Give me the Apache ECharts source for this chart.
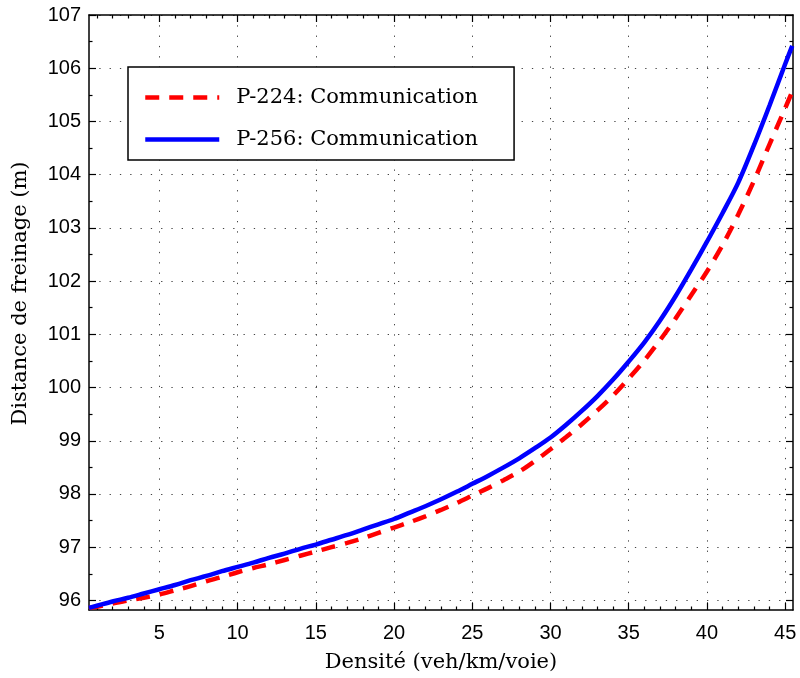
<!DOCTYPE html>
<html><head><meta charset="utf-8">
<script src="https://cdn.jsdelivr.net/npm/echarts@6/dist/echarts.min.js"></script>
<style>html,body{margin:0;padding:0;background:#fff}#c{width:800px;height:678px}</style>
</head><body><div id="c"></div>
<script>
// Densité (veh/km/voie)
const density = [0.5, 1, 2, 3, 4, 5, 6, 7, 8, 9, 10, 11, 12, 13, 14, 15, 16, 17, 18, 19, 20,
  21, 22, 23, 24, 25, 26, 27, 28, 29, 30, 31, 32, 33, 34, 35, 36, 37, 38, 39, 40,
  41, 42, 43, 44, 45, 45.45];
// P-224: Communication (red dashed)
const p224 = [95.86, 95.88, 95.94, 96.00, 96.05, 96.11, 96.19, 96.27, 96.36, 96.44, 96.53,
  96.61, 96.68, 96.76, 96.84, 96.92, 97.00, 97.08, 97.17, 97.27, 97.37,
  97.47, 97.58, 97.70, 97.83, 97.97, 98.11, 98.26, 98.42, 98.62, 98.84,
  99.07, 99.31, 99.57, 99.85, 100.17, 100.51, 100.89, 101.30, 101.74, 102.18,
  102.68, 103.25, 103.88, 104.57, 105.25, 105.56];
// P-256: Communication (blue solid)
const p256 = [95.86, 95.90, 95.98, 96.05, 96.13, 96.21, 96.29, 96.38, 96.46, 96.55, 96.63,
  96.71, 96.80, 96.88, 96.97, 97.05, 97.14, 97.23, 97.33, 97.43, 97.53,
  97.65, 97.77, 97.90, 98.04, 98.19, 98.34, 98.50, 98.67, 98.86, 99.06,
  99.30, 99.56, 99.84, 100.15, 100.49, 100.85, 101.26, 101.72, 102.22, 102.74,
  103.28, 103.85, 104.55, 105.30, 106.08, 106.42];
const seriesNames = ['P-224: Communication', 'P-256: Communication'];
const xMajorTicks = [5, 10, 15, 20, 25, 30, 35, 40, 45];
const xMinorTicks = [1, 2, 3, 4, 6, 7, 8, 9, 11, 12, 13, 14, 16, 17, 18, 19, 21, 22, 23, 24,
  26, 27, 28, 29, 31, 32, 33, 34, 36, 37, 38, 39, 41, 42, 43, 44];
const yMajorTicks = [96, 97, 98, 99, 100, 101, 102, 103, 104, 105, 106, 107];
const yMinorTicks = [96.5, 97.5, 98.5, 99.5, 100.5, 101.5, 102.5, 103.5, 104.5, 105.5, 106.5];
const xTitle = 'Densité (veh/km/voie)';
const yTitle = 'Distance de freinage (m)';

const X_MIN = 0.5, X_MAX = 45.5, Y_MIN = 95.82, Y_MAX = 107;
const serif = 'DejaVu Serif';
const sans = 'Liberation Sans';

function axisBase(min, max) {
  return { type: 'value', min: min, max: max, scale: true,
    axisLine: { show: false }, axisTick: { show: false }, axisLabel: { show: false },
    splitLine: { show: false }, minorTick: { show: false }, minorSplitLine: { show: false } };
}
function majorAxis(min, max, position, ticks, withLabels, withGrid) {
  const a = axisBase(min, max);
  a.position = position;
  a.axisLine = { show: true, onZero: false, lineStyle: { color: '#000', width: 1.5 } };
  a.axisTick = { show: true, inside: true, length: 7, customValues: ticks, lineStyle: { color: '#000', width: 1.2 } };
  if (withLabels) {
    a.axisLabel = { show: true, customValues: ticks, color: '#000', fontFamily: sans, fontSize: 20 };
  }
  if (withGrid) {
    a.splitLine = { show: true, lineStyle: { color: '#444', width: 1, type: [1.3, 9] } };
  }
  return a;
}
function minorAxis(min, max, position, ticks) {
  const a = axisBase(min, max);
  a.position = position;
  a.axisTick = { show: true, inside: true, length: 3.5, customValues: ticks, lineStyle: { color: '#000', width: 1.2 } };
  return a;
}

const xBottom = majorAxis(X_MIN, X_MAX, 'bottom', xMajorTicks, true, true);
xBottom.axisLabel.margin = 13;
xBottom.name = xTitle; xBottom.nameLocation = 'middle'; xBottom.nameGap = 42;
xBottom.nameTextStyle = { fontFamily: serif, fontSize: 21, color: '#000' };
const yLeft = majorAxis(Y_MIN, Y_MAX, 'left', yMajorTicks, true, true);
yLeft.axisLabel.margin = 8;
yLeft.name = yTitle; yLeft.nameLocation = 'middle'; yLeft.nameGap = 58;
yLeft.nameTextStyle = { fontFamily: serif, fontSize: 21, color: '#000', padding: [0, 0, 0, 38] };

const option = {
  animation: false,
  backgroundColor: '#fff',
  grid: { left: 89, right: 7, top: 15, bottom: 68, containLabel: false },
  xAxis: [
    xBottom,
    majorAxis(X_MIN, X_MAX, 'top', xMajorTicks, false, false),
    minorAxis(X_MIN, X_MAX, 'bottom', xMinorTicks),
    minorAxis(X_MIN, X_MAX, 'top', xMinorTicks)
  ],
  yAxis: [
    yLeft,
    majorAxis(Y_MIN, Y_MAX, 'right', yMajorTicks, false, false),
    minorAxis(Y_MIN, Y_MAX, 'left', yMinorTicks),
    minorAxis(Y_MIN, Y_MAX, 'right', yMinorTicks)
  ],
  legend: {
    data: seriesNames,
    orient: 'vertical',
    left: 128, top: 67,
    itemWidth: 74, itemHeight: 20, itemGap: 21,
    padding: [20, 36, 10, 15],
    borderColor: '#000', borderWidth: 1.5, backgroundColor: '#fff',
    itemStyle: { color: 'transparent', borderWidth: 0, opacity: 0 },
    lineStyle: { width: 4.5 },
    textStyle: { fontFamily: serif, fontSize: 21, color: '#000', padding: [0, 0, 0, 12] }
  },
  series: [
    { name: seriesNames[0], type: 'line', xAxisIndex: 0, yAxisIndex: 0,
      data: density.map((x, i) => [x, p224[i]]), smooth: 0.3, symbol: 'none',
      lineStyle: { color: '#ff0000', width: 4.5, type: [14, 10] }, itemStyle: { color: '#ff0000' } },
    { name: seriesNames[1], type: 'line', xAxisIndex: 0, yAxisIndex: 0,
      data: density.map((x, i) => [x, p256[i]]), smooth: 0.3, symbol: 'none',
      lineStyle: { color: '#0000ff', width: 4.5 }, itemStyle: { color: '#0000ff' } }
  ]
};
const chart = echarts.init(document.getElementById('c'), null, { renderer: 'canvas' });
chart.setOption(option);
</script>
</body></html>
